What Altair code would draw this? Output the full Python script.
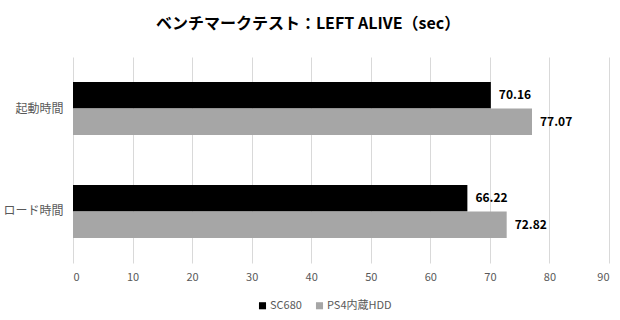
import altair as alt
import pandas as pd

categories = ["起動時間", "ロード時間"]
series = ["SC680", "PS4内蔵HDD"]
sc680 = [70.16, 66.22]
ps4hdd = [77.07, 72.82]
colors = ["#000000", "#a6a6a6"]

rows = []
for i, c in enumerate(categories):
    rows.append({"cat": c, "series": series[0], "value": sc680[i], "order": 0})
    rows.append({"cat": c, "series": series[1], "value": ps4hdd[i], "order": 1})
df = pd.DataFrame(rows)

FONT = "Noto Sans CJK JP"

base = alt.Chart(df).encode(
    y=alt.Y("cat:N", sort=categories, title=None,
            scale=alt.Scale(paddingInner=0.485, paddingOuter=0.243),
            axis=alt.Axis(domain=False, ticks=False, labelPadding=10, labelFontSize=12,
                          labelColor="#595959", labelFont=FONT)),
    yOffset=alt.YOffset("series:N", sort=series),
)

bars = base.mark_bar().encode(
    x=alt.X("value:Q", title=None,
            scale=alt.Scale(domain=[0, 90], nice=False),
            axis=alt.Axis(values=list(range(0, 91, 10)), domain=False, ticks=False,
                          gridColor="#d9d9d9", labelFontSize=11, labelColor="#595959",
                          labelFont=FONT, labelPadding=8)),
    color=alt.Color("series:N", sort=series,
                    scale=alt.Scale(domain=series, range=colors),
                    legend=alt.Legend(title=None, orient="none", direction="horizontal",
                                      legendX=184, legendY=243, symbolType="square",
                                      symbolSize=50, symbolStrokeWidth=0,
                                      labelFontSize=11, labelColor="#595959",
                                      labelFont=FONT, columnPadding=12, labelOffset=2)),
)

labels = base.mark_text(align="left", baseline="middle", dx=8, fontSize=12,
                        fontWeight="bold", color="#000000", font=FONT).encode(
    x=alt.X("value:Q"),
    text=alt.Text("value:Q", format=".2f"),
)

chart = (bars + labels).properties(
    width=536, height=206,
    autosize=alt.AutoSizeParams(type="none"),
    padding={"left": 73, "top": 57, "right": 11, "bottom": 57},
    title=alt.Title("ベンチマークテスト：LEFT ALIVE（sec）", fontSize=16, fontWeight="bold",
                    font=FONT, color="#000000", anchor="middle", dx=-33, offset=25),
).configure_view(stroke=None)

chart.save("out.html", embed_options={"renderer": "svg", "actions": False})
